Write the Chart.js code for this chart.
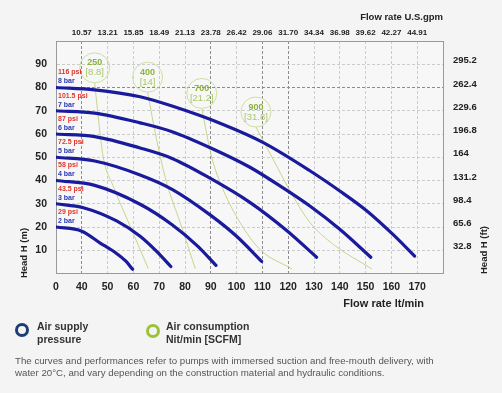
<!DOCTYPE html>
<html>
<head>
<meta charset="utf-8">
<script src="https://cdn.jsdelivr.net/npm/chart.js@4/dist/chart.umd.min.js"></script>
<style>
  body { margin: 0; background: #f4f4f4; font-family: "Liberation Sans", Arial, sans-serif; }
  #wrap { position: relative; width: 502px; height: 393px; }
  .ring { position: absolute; width: 8px; height: 8px; border-radius: 50%; border: 3.5px solid; }
  .leg { position: absolute; top: 320px; font-size: 10.5px; font-weight: bold; line-height: 12.6px; color: #333; }
  .note { position: absolute; left: 15px; top: 355px; font-size: 9.7px; line-height: 11.7px; color: #555; white-space: nowrap; }
</style>
</head>
<body>
<div id="wrap">
  <canvas id="pumpChart" width="502" height="393"></canvas>
  <div class="ring" style="left:15px; top:323px; border-color:#1b3d70"></div>
  <div class="leg" style="left:37px">Air supply<br>pressure</div>
  <div class="ring" style="left:146px; top:324px; border-color:#9cc23a"></div>
  <div class="leg" style="left:166px">Air consumption<br>Nit/min [SCFM]</div>
  <div class="note">The curves and performances refer to pumps with immersed suction and free-mouth delivery, with<br>water 20°C, and vary depending on the construction material and hydraulic conditions.</div>
</div>
<script>
// axis tick labels
const lpmTicks = ['0', '40', '50', '60', '70', '80', '90', '100', '110', '120', '130', '140', '150', '160', '170', ''];
const gpmTicks = ['', '10.57', '13.21', '15.85', '18.49', '21.13', '23.78', '26.42', '29.06', '31.70', '34.34', '36.98', '39.62', '42.27', '44.91', ''];
const headMTicks = ['', '10', '20', '30', '40', '50', '60', '70', '80', '90', ''];
const headFtTicks = ['', '32.8', '65.6', '98.4', '131.2', '164', '196.8', '229.6', '262.4', '295.2', ''];

// pressure curves [flow lt/min, head m]
const bar8 = [[30, 80], [45, 79], [62.6, 76], [75, 72], [95, 64], [110, 56.5], [128.4, 44.2], [140, 35.5], [150.4, 27], [160.7, 16.7], [169, 7.5]];
const bar7 = [[30, 70], [45, 69], [62.6, 64.8], [75, 61], [90, 54], [105, 45.8], [118, 36.8], [128.4, 29], [140, 19], [152, 7]];
const bar6 = [[30, 60], [45, 58.9], [62.6, 54], [75, 49.5], [89.7, 41], [105, 30.7], [119.4, 18.5], [131, 7]];
const bar5 = [[30, 50], [45, 48.4], [62.6, 42.4], [75, 36.2], [90, 25], [100, 16], [109.7, 5.2]];
const bar4 = [[30, 40], [45, 37.9], [62.6, 29.8], [75, 21], [85, 11.7], [92, 3.5]];
const bar3 = [[30, 30], [40.6, 28.3], [53.5, 22.6], [62.6, 16], [69, 9.5], [74.5, 3]];
const bar2 = [[30, 20], [40, 18.2], [47, 13.2], [53, 9], [57, 5.4], [59.7, 1.8]];
const barLabels = ['8 bar', '7 bar', '6 bar', '5 bar', '4 bar', '3 bar', '2 bar'];
const psiLabels = ['116 psi', '101.5 psi', '87 psi', '72.5 psi', '58 psi', '43.5 psi', '29 psi'];

// air consumption curves
const air250 = [[45, 82], [46.5, 66], [48.3, 50], [52, 38], [58.5, 21], [65.8, 2]];
const air400 = [[65.5, 78], [69, 57.5], [72.9, 39], [78.1, 22], [84, 2]];
const air700 = [[86.5, 71], [90.3, 50.3], [94.8, 36], [101.3, 22], [109.1, 10.3], [121.4, 2]];
const air900 = [[107.5, 63], [114.2, 49], [122, 33], [128.4, 22], [137.5, 12.5], [152.4, 2]];
const airNl = ['250', '400', '700', '900'];
const airScfm = ['[8.8]', '[14]', '[21.2]', '[31.8]'];

const pressureCurves = [bar8, bar7, bar6, bar5, bar4, bar3, bar2];
const airCurves = [air250, air400, air700, air900];

const FONT = '"Liberation Sans", Arial, sans-serif';

function toPoints(c) {
    return c.map((p) => ({x: p[0], y: p[1]}));
}

let datasets = pressureCurves.map((c, i) => ({
    label: barLabels[i],
    data: toPoints(c),
    borderColor: '#1a1a9c',
    borderWidth: 3.2,
    borderCapStyle: 'round',
    pointRadius: 0,
    cubicInterpolationMode: 'monotone',
}));
airCurves.forEach((c, i) => {
    datasets.push({
        label: airNl[i],
        data: toPoints(c),
        borderColor: '#c6d68c',
        borderWidth: 1,
        pointRadius: 0,
        cubicInterpolationMode: 'monotone',
    });
});

// labels, circles and axis titles
const overlay = {
    id: 'overlay',
    afterDatasetsDraw(chart) {
        const {ctx, scales: {x, y}} = chart;
        ctx.save();
        ctx.textBaseline = 'middle';

        airCurves.forEach((c, i) => {
            const px = x.getPixelForValue(c[0][0]);
            const py = y.getPixelForValue(c[0][1]) - 15;
            ctx.beginPath();
            ctx.arc(px, py, 15, 0, Math.PI * 2);
            ctx.strokeStyle = '#cfdfa3';
            ctx.lineWidth = 1;
            ctx.stroke();
            ctx.textAlign = 'center';
            ctx.fillStyle = '#8ab43a';
            ctx.font = 'bold 9px ' + FONT;
            ctx.fillText(airNl[i], px, py - 5);
            ctx.fillStyle = '#a8c86a';
            ctx.font = '9.5px ' + FONT;
            ctx.fillText(airScfm[i], px, py + 5);
        });

        pressureCurves.forEach((c, i) => {
            const py = y.getPixelForValue(c[0][1]);
            ctx.textAlign = 'left';
            ctx.font = 'bold 7px ' + FONT;
            ctx.fillStyle = '#e0352b';
            ctx.fillText(psiLabels[i], x.left + 2, py - 15);
            ctx.fillStyle = '#2a38b0';
            ctx.fillText(barLabels[i], x.left + 2, py - 6);
        });

        ctx.fillStyle = '#222';
        ctx.textAlign = 'right';
        ctx.font = 'bold 9.5px ' + FONT;
        ctx.fillText('Flow rate U.S.gpm', x.right, 17);
        ctx.font = 'bold 11px ' + FONT;
        ctx.fillText('Flow rate lt/min', 424, 304);

        ctx.textAlign = 'center';
        ctx.font = 'bold 9.5px ' + FONT;
        ctx.translate(24.5, 253);
        ctx.rotate(-Math.PI / 2);
        ctx.fillText('Head H (m)', 0, 0);
        ctx.rotate(Math.PI / 2);
        ctx.translate(484.5 - 24.5, 250 - 253);
        ctx.rotate(-Math.PI / 2);
        ctx.fillText('Head H (ft)', 0, 0);
        ctx.restore();
    },
};

const plotBg = {
    id: 'plotBg',
    beforeDraw(chart) {
        const {ctx, chartArea: a} = chart;
        ctx.save();
        ctx.fillStyle = '#f7f7f7';
        ctx.fillRect(a.left, a.top, a.right - a.left, a.bottom - a.top);
        ctx.restore();
    },
};

const darkX = [40, 90, 110, 120];
const darkY = [80];

function gridColor(darkList, edges) {
    return (c) => {
        if (!c.tick) return '#9a9a9a';
        const v = c.tick.value;
        if (edges.includes(v)) return 'rgba(0,0,0,0)';
        return darkList.includes(v) ? '#8c8c8c' : '#cccccc';
    };
}

const tickFont = {family: FONT, size: 10.5, weight: 'bold'};

new Chart(document.getElementById('pumpChart'), {
    type: 'line',
    data: {datasets: datasets},
    plugins: [plotBg, overlay],
    options: {
        responsive: false,
        animation: false,
        layout: {padding: 0},
        plugins: {legend: {display: false}, tooltip: {enabled: false}},
        scales: {
            x: {
                type: 'linear', position: 'bottom', min: 30, max: 180,
                afterFit: (s) => { s.height = 119.5; },
                ticks: {stepSize: 10, padding: 7, color: '#222', font: tickFont, maxRotation: 0, autoSkip: false,
                    callback: (v, i) => lpmTicks[i]},
                grid: {drawTicks: false, color: gridColor(darkX, [30, 180])},
                border: {color: '#9a9a9a', dash: (c) => c.tick ? [3, 2] : []},
            },
            x2: {
                type: 'linear', position: 'top', min: 30, max: 180,
                afterFit: (s) => { s.height = 41; },
                ticks: {stepSize: 10, padding: 3, color: '#222', font: {family: FONT, size: 8, weight: 'bold'},
                    maxRotation: 0, autoSkip: false, callback: (v, i) => gpmTicks[i]},
                grid: {drawTicks: false, drawOnChartArea: false},
                border: {color: '#9a9a9a'},
            },
            y: {
                type: 'linear', position: 'left', min: 0, max: 100,
                afterFit: (s) => { s.width = 56; },
                ticks: {stepSize: 10, padding: 9, color: '#222', font: tickFont, autoSkip: false,
                    callback: (v, i) => headMTicks[i]},
                grid: {drawTicks: false, color: gridColor(darkY, [0, 100])},
                border: {color: '#9a9a9a', dash: (c) => c.tick ? [3, 2] : []},
            },
            y2: {
                type: 'linear', position: 'right', min: 0, max: 100,
                afterFit: (s) => { s.width = 59; },
                ticks: {stepSize: 10, padding: 10, labelOffset: -3.5, color: '#222',
                    font: {family: FONT, size: 9.5, weight: 'bold'}, autoSkip: false,
                    callback: (v, i) => headFtTicks[i]},
                grid: {drawTicks: false, drawOnChartArea: false},
                border: {color: '#9a9a9a'},
            },
        },
    },
});
</script>
</body>
</html>
